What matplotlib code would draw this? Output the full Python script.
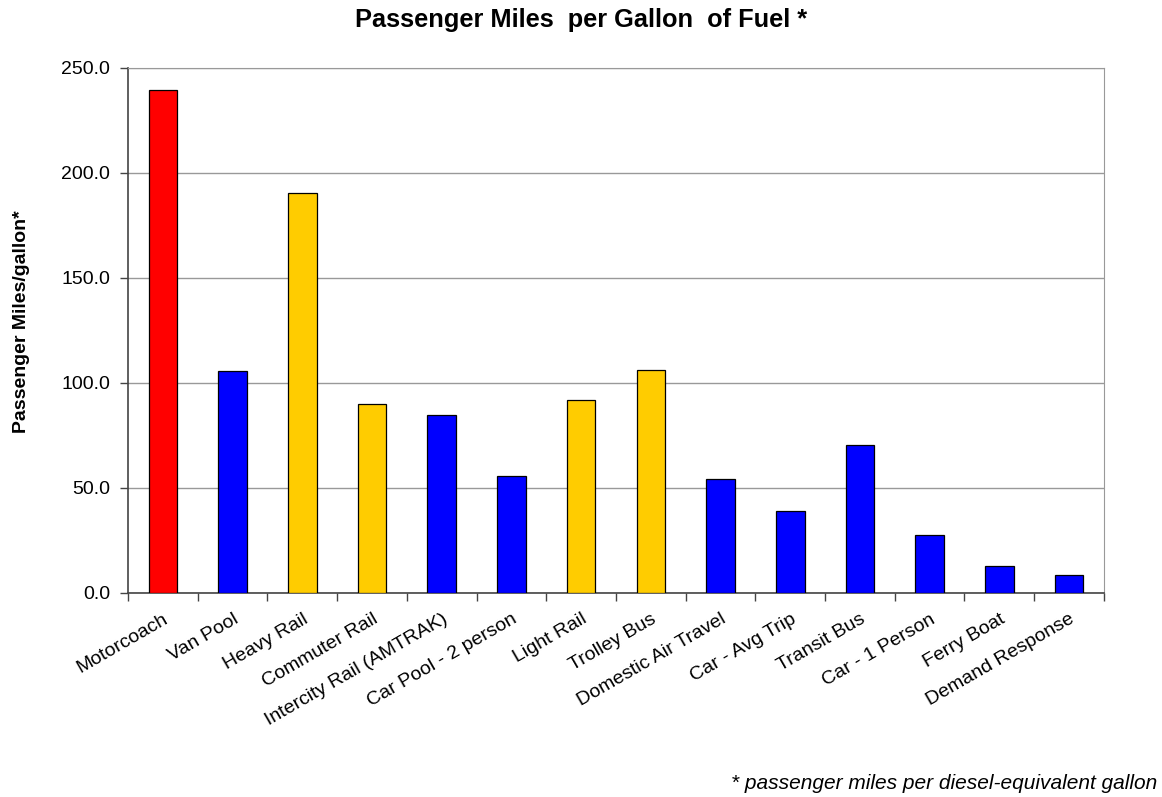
import matplotlib
matplotlib.use("Agg")
import matplotlib.pyplot as plt
import numpy as np

plt.rcParams['font.family'] = ['Liberation Sans', 'DejaVu Sans']

categories = ["Motorcoach", "Van Pool", "Heavy Rail", "Commuter Rail", "Intercity Rail (AMTRAK)",
              "Car Pool - 2 person", "Light Rail", "Trolley Bus", "Domestic Air Travel",
              "Car - Avg Trip", "Transit Bus", "Car - 1 Person", "Ferry Boat", "Demand Response"]
values = [239.2, 105.6, 190.2, 89.9, 84.6, 55.6, 91.8, 106.0, 54.1, 38.9, 70.3, 27.5, 12.6, 8.4]
colors = ["#FF0000", "#0000FF", "#FFCC00", "#FFCC00", "#0000FF", "#0000FF", "#FFCC00",
          "#FFCC00", "#0000FF", "#0000FF", "#0000FF", "#0000FF", "#0000FF", "#0000FF"]
yticks = [0, 50, 100, 150, 200, 250]

fig = plt.figure(figsize=(11.62, 7.97), dpi=100)
ax = fig.add_axes([0.1102, 0.2563, 0.8398, 0.6587])

x = np.arange(len(categories))
ax.bar(x, values, width=0.41, color=colors, edgecolor="black", linewidth=0.9, zorder=3)

ax.set_xlim(-0.5, len(categories) - 0.5)
ax.set_ylim(0, 250)
ax.set_yticks(yticks)
ax.set_yticklabels([f"{v:.1f}" for v in yticks], fontsize=14)
ax.yaxis.grid(True, color="#999999", linewidth=1, zorder=0)

ax.set_xticks(x)
ax.set_xticklabels(categories, rotation=30, ha="right", rotation_mode="anchor", fontsize=14)
ax.tick_params(axis="x", length=0, pad=13)
ax.set_xticks(np.arange(-0.5, len(categories)), minor=True)
ax.tick_params(axis="x", which="minor", length=6, color="#444444", width=1)
ax.tick_params(axis="y", length=6, color="#444444", width=1, pad=7)

for s in ["top", "right"]:
    ax.spines[s].set_color("#999999")
for s in ["left", "bottom"]:
    ax.spines[s].set_color("#444444")
    ax.spines[s].set_linewidth(1.2)

ax.set_ylabel("Passenger Miles/gallon*", fontsize=14, fontweight="bold", labelpad=0)
ax.yaxis.set_label_coords(-0.1005, 0.516)
fig.suptitle("Passenger Miles  per Gallon  of Fuel *", fontsize=18.3, fontweight="bold", y=0.99)
fig.text(0.996, 0.005, "* passenger miles per diesel-equivalent gallon", ha="right", va="bottom",
         fontsize=15, style="italic")

fig.savefig("out.png", dpi=100)
